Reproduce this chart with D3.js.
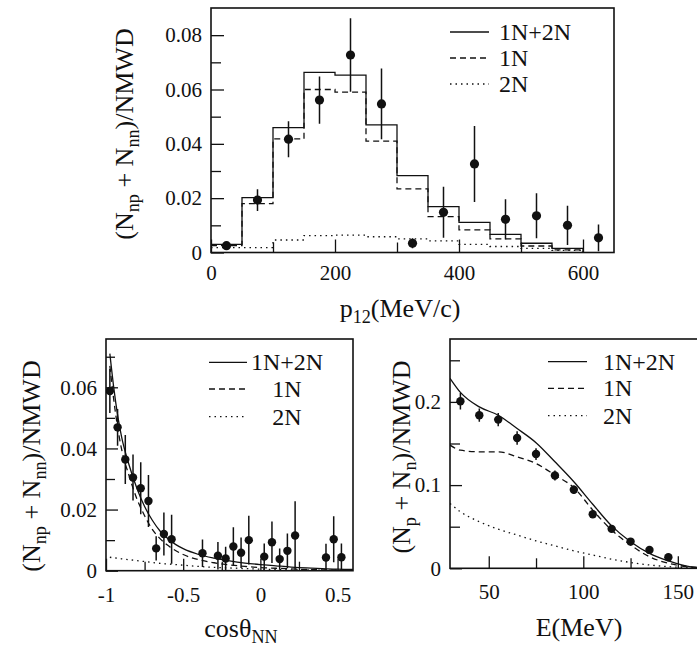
<!DOCTYPE html>
<html><head><meta charset="utf-8">
<script src="https://cdn.jsdelivr.net/npm/d3@7"></script>
<style>
body{margin:0;background:#fff;}
svg{display:block;}
text{font-family:"Liberation Serif","Times New Roman","DejaVu Serif",serif;}
</style></head><body>
<svg id="c" width="697" height="646"></svg>
<script>
// ---------- Panel A: p12 distribution (histograms + data) ----------
const p12BinEdges = [0,50,100,150,200,250,300,350,400,450,500,550,600];
const p12Total = [0.003,0.0202,0.046,0.0663,0.0653,0.047,0.0283,0.0169,0.0111,0.0067,0.0034,0.0015];
const p12OneN  = [0.0025,0.018,0.0418,0.060,0.059,0.041,0.0234,0.0132,0.0083,0.005,0.0024,0.001];
const p12TwoN  = [0.0018,0.0018,0.0046,0.0062,0.0064,0.0058,0.005,0.0043,0.003,0.0022,0.0015,0.0008];
const p12DataX = [25,75,125,175,225,275,325,375,425,475,525,575,625];
const p12DataY = [0.0025,0.0193,0.0417,0.0561,0.0727,0.0547,0.0034,0.0148,0.0326,0.0122,0.0135,0.010,0.0054];
const p12DataErr = [0.001,0.004,0.0066,0.0087,0.0135,0.013,0.0018,0.0094,0.014,0.0074,0.0083,0.0072,0.0049];
const p12XMajor = [0,200,400,600], p12XLabels = ["0","200","400","600"], p12XMinor = [100,300,500];
const p12YMajor = [0,0.02,0.04,0.06,0.08], p12YLabels = ["0","0.02","0.04","0.06","0.08"], p12YMinor = [0.01,0.03,0.05,0.07];

// ---------- Panel B: cos(theta_NN) ----------
const cosDataX = [-0.975,-0.925,-0.875,-0.825,-0.775,-0.725,-0.675,-0.625,-0.575,-0.375,-0.275,-0.225,-0.175,-0.125,-0.075,0.025,0.075,0.125,0.175,0.225,0.425,0.475,0.525];
const cosDataY = [0.0588,0.0469,0.0364,0.0305,0.027,0.0228,0.0073,0.012,0.0103,0.0057,0.0049,0.004,0.0079,0.0059,0.010,0.0046,0.0093,0.0038,0.0065,0.0115,0.0043,0.0103,0.0044];
const cosDataErr = [0.0072,0.006,0.008,0.0075,0.0085,0.0085,0.004,0.007,0.008,0.0045,0.0045,0.0038,0.0063,0.005,0.008,0.0043,0.0068,0.0035,0.0057,0.0112,0.0045,0.0075,0.0045];
const cosCurveX = [-0.975,-0.95,-0.925,-0.9,-0.85,-0.8,-0.75,-0.7,-0.65,-0.6,-0.55,-0.5,-0.4,-0.3,-0.2,-0.1,0,0.1,0.2,0.3,0.4,0.5,0.6];
const cosTotal = [0.071,0.060,0.051,0.044,0.0345,0.027,0.021,0.0165,0.013,0.0105,0.0086,0.0072,0.0053,0.0041,0.0032,0.0025,0.002,0.0016,0.0012,0.0009,0.0007,0.0005,0.0004];
const cosOneN  = [0.067,0.056,0.047,0.040,0.031,0.0235,0.018,0.0135,0.0105,0.0083,0.0066,0.0053,0.0036,0.0026,0.0019,0.0014,0.001,0.0008,0.0006,0.0004,0.0003,0.0002,0.0002];
const cosTwoN  = [0.0044,0.0042,0.0041,0.0039,0.0036,0.0033,0.003,0.0027,0.0024,0.0022,0.002,0.0018,0.0014,0.0011,0.0009,0.0007,0.0005,0.0004,0.0003,0.0003,0.0002,0.0002,0.0001];
const cosXMajor = [-1,-0.5,0,0.5], cosXLabels = ["-1","-0.5","0","0.5"], cosXMinor = [-0.75,-0.25,0.25];
const cosYMajor = [0,0.02,0.04,0.06], cosYLabels = ["0","0.02","0.04","0.06"], cosYMinor = [0.01,0.03,0.05,0.07];

// ---------- Panel C: energy E ----------
const eDataX = [35,45,55,65,75,85,95,105,115,125,135,145];
const eDataY = [0.2008,0.184,0.1787,0.1566,0.1373,0.1116,0.0944,0.065,0.0474,0.0321,0.0221,0.0133];
const eDataErr = [0.01,0.008,0.008,0.008,0.007,0.006,0.005,0.004,0.004,0.003,0.003,0.003];
const eCurveX = [29.5,35,45,55,65,75,85,95,105,115,125,135,145,157,161];
const eTotal = [0.2284,0.2115,0.194,0.184,0.168,0.151,0.128,0.104,0.077,0.051,0.032,0.018,0.009,0.0016,0.0008];
const eOneN  = [0.148,0.142,0.140,0.140,0.134,0.126,0.112,0.097,0.070,0.046,0.028,0.014,0.006,0.0016,0.0008];
const eTwoN  = [0.078,0.068,0.056,0.047,0.040,0.033,0.027,0.021,0.016,0.011,0.007,0.004,0.002,0.0008,0.0005];
const eXMajor = [50,100,150], eXLabels = ["50","100","150"], eXMinor = [75,125];
const eYMajor = [0,0.1,0.2], eYLabels = ["0","0.1","0.2"], eYMinor = [0.05,0.15,0.25];

const legendLabels = ["1N+2N","1N","2N"];
const styles = [null, "6,4", "1.5,4"];

const FONT = "'Liberation Serif','Times New Roman','DejaVu Serif',serif";
const svg = d3.select("#c");
const INK = "#111";

function panel(o){
  const g = svg.append("g");
  const x = d3.scaleLinear().domain(o.xDomain).range([o.left,o.right]);
  const y = d3.scaleLinear().domain(o.yDomain).range([o.bottom,o.top]);
  svg.append("clipPath").attr("id","clip"+o.id).append("rect")
    .attr("x",o.left).attr("y",o.top).attr("width",o.right-o.left).attr("height",o.bottom-o.top);
  const plot = g.append("g").attr("clip-path",`url(#clip${o.id})`);

  const styleAxis = sel => {
    sel.attr("font-family",FONT).attr("font-size",21);
    sel.select(".domain").remove();
    sel.selectAll("line").attr("stroke",INK).attr("stroke-width",1.3);
    sel.selectAll("text").attr("fill",INK).attr("font-size",21).attr("font-family",FONT);
  };
  g.append("g").attr("transform",`translate(0,${o.bottom})`)
    .call(d3.axisBottom(x).tickValues(o.xMajor).tickFormat((d,i)=>o.xLabels[i]).tickSizeInner(-o.majLen).tickSizeOuter(0).tickPadding(o.xPad))
    .call(styleAxis);
  g.append("g").attr("transform",`translate(0,${o.bottom})`)
    .call(d3.axisBottom(x).tickValues(o.xMinor).tickFormat("").tickSizeInner(-o.minLen).tickSizeOuter(0))
    .call(styleAxis);
  g.append("g").attr("transform",`translate(${o.left},0)`)
    .call(d3.axisLeft(y).tickValues(o.yMajor).tickFormat((d,i)=>o.yLabels[i]).tickSizeInner(-o.majLen).tickSizeOuter(0).tickPadding(9))
    .call(styleAxis);
  g.append("g").attr("transform",`translate(${o.left},0)`)
    .call(d3.axisLeft(y).tickValues(o.yMinor).tickFormat("").tickSizeInner(-o.minLen).tickSizeOuter(0))
    .call(styleAxis);

  g.append("rect").attr("x",o.left).attr("y",o.top).attr("width",o.right-o.left).attr("height",o.bottom-o.top)
    .attr("fill","none").attr("stroke",INK).attr("stroke-width",1.6);
  return {g,x,y,plot};
}

function drawLine(p, xs, ys, k, curve){
  p.plot.append("path")
    .datum(xs.map((v,i)=>[v,ys[i]]))
    .attr("fill","none").attr("stroke",INK).attr("stroke-width",1.3)
    .attr("stroke-dasharray",styles[k])
    .attr("d",d3.line().x(d=>p.x(d[0])).y(d=>p.y(d[1])).curve(curve));
}

function drawPoints(p, xs, ys, es, r){
  const gg = p.plot.append("g");
  xs.forEach((xv,i)=>{
    gg.append("line").attr("x1",p.x(xv)).attr("x2",p.x(xv))
      .attr("y1",p.y(ys[i]-es[i])).attr("y2",p.y(ys[i]+es[i]))
      .attr("stroke",INK).attr("stroke-width",1.5);
    gg.append("circle").attr("cx",p.x(xv)).attr("cy",p.y(ys[i])).attr("r",r).attr("fill",INK);
  });
}

function legend(x1,x2,ys,tx,anchor,fs){
  ys.forEach((yy,k)=>{
    svg.append("line").attr("x1",x1).attr("x2",x2).attr("y1",yy).attr("y2",yy)
      .attr("stroke",INK).attr("stroke-width",1.3).attr("stroke-dasharray",styles[k]);
    svg.append("text").attr("x",tx).attr("y",yy+8).attr("text-anchor",anchor)
      .attr("font-family",FONT).attr("font-size",fs).attr("fill",INK).text(legendLabels[k]);
  });
}

function richText(x, y, parts, fs, rotate){
  const t = svg.append("text").attr("font-family",FONT).attr("font-size",fs).attr("fill",INK).attr("text-anchor","middle")
    .attr("transform",`translate(${x},${y})` + (rotate?" rotate(-90)":""));
  let shifted = false;
  parts.forEach(pt=>{
    const ts = t.append("tspan").text(pt[0]);
    if(pt[1]){ ts.attr("font-size",fs*0.7).attr("dy",shifted?0:6); shifted = true; }
    else { if(shifted){ ts.attr("dy",-6); } shifted = false; }
  });
}

// ---- Panel A
const pA = panel({id:"A",left:211,right:614,top:8,bottom:252.5,xDomain:[0,650],yDomain:[0,0.09],
  xMajor:p12XMajor,xLabels:p12XLabels,xMinor:p12XMinor,yMajor:p12YMajor,yLabels:p12YLabels,yMinor:p12YMinor,
  majLen:13,minLen:10,xPad:13});
function histPts(vals){
  const pts = vals.map((v,i)=>[p12BinEdges[i],v]);
  pts.push([p12BinEdges[p12BinEdges.length-1],0]);
  return pts;
}
[p12Total,p12OneN,p12TwoN].forEach((vals,k)=>{
  const pts = histPts(vals);
  drawLine(pA, pts.map(d=>d[0]), pts.map(d=>d[1]), k, d3.curveStepAfter);
});
drawPoints(pA, p12DataX, p12DataY, p12DataErr, 4.6);
legend(450,489,[32,58,84],499,"start",24);
richText(133,134,[["(N"],["np",1],[" + N"],["nn",1],[")/NMWD"]],26,true);
richText(400,317,[["p"],["12",1],["(MeV/c)"]],26,false);

// ---- Panel B
const pB = panel({id:"B",left:106,right:353,top:339,bottom:570.7,xDomain:[-1,0.6],yDomain:[0,0.0758],
  xMajor:cosXMajor,xLabels:cosXLabels,xMinor:cosXMinor,yMajor:cosYMajor,yLabels:cosYLabels,yMinor:cosYMinor,
  majLen:12,minLen:9,xPad:16});
drawLine(pB, cosCurveX, cosTotal, 0, d3.curveMonotoneX);
drawLine(pB, cosCurveX, cosOneN, 1, d3.curveMonotoneX);
drawLine(pB, cosCurveX, cosTwoN, 2, d3.curveMonotoneX);
drawPoints(pB, cosDataX, cosDataY, cosDataErr, 4.2);
legend(209,247,[362.3,389,416.7],287,"middle",24);
richText(39.5,466,[["(N"],["np",1],[" + N"],["nn",1],[")/NMWD"]],26,true);
richText(241,637,[["cosθ"],["NN",1]],26,false);

// ---- Panel C
const pC = panel({id:"C",left:450,right:699,top:339,bottom:568.3,xDomain:[29.5,161.2],yDomain:[0,0.2756],
  xMajor:eXMajor,xLabels:eXLabels,xMinor:eXMinor,yMajor:eYMajor,yLabels:eYLabels,yMinor:eYMinor,
  majLen:12,minLen:10,xPad:16});
drawLine(pC, eCurveX, eTotal, 0, d3.curveMonotoneX);
drawLine(pC, eCurveX, eOneN, 1, d3.curveMonotoneX);
drawLine(pC, eCurveX, eTwoN, 2, d3.curveMonotoneX);
drawPoints(pC, eDataX, eDataY, eDataErr, 4.2);
legend(548,587,[361.7,388.3,415.7],603,"start",24);
richText(410,457,[["(N"],["p",1],[" + N"],["n",1],[")/NMWD"]],26,true);
richText(579,636,[["E(MeV)"]],26,false);
</script>
</body></html>
